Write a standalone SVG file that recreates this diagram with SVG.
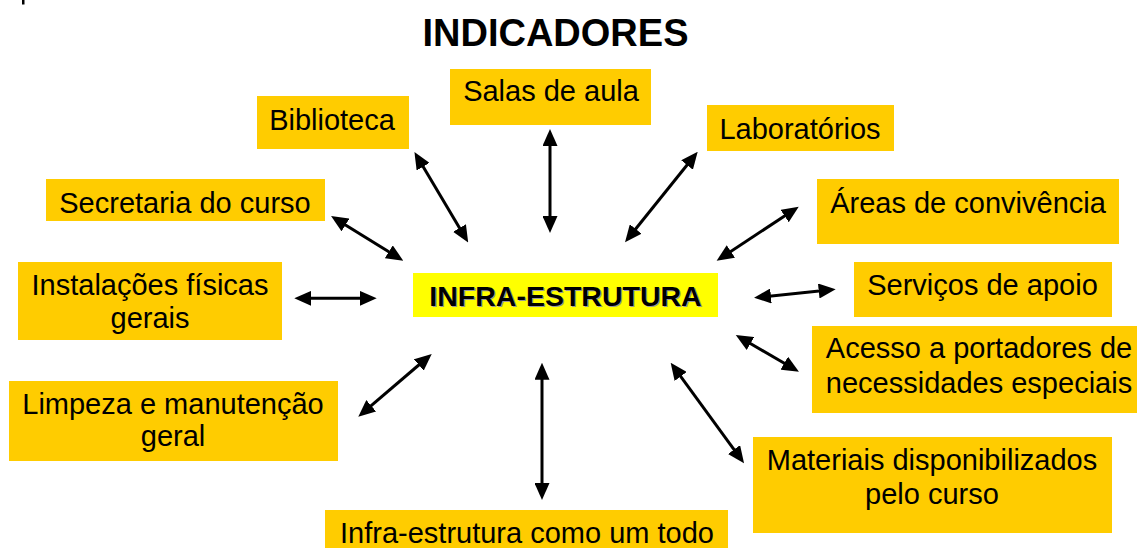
<svg xmlns="http://www.w3.org/2000/svg" width="1137" height="548" viewBox="0 0 1137 548">
<style>
.box{fill:#FFCC00}
.t{font-family:"Liberation Sans",Arial,sans-serif;font-size:29px;fill:#000;text-anchor:middle}
.b{font-family:"Liberation Sans",Arial,sans-serif;font-weight:bold;text-anchor:middle}
.c{stroke:#000;stroke-width:3;fill:none;marker-start:url(#ah);marker-end:url(#ah)}
</style>
<defs>
<marker id="ah" markerUnits="userSpaceOnUse" markerWidth="17" markerHeight="15" refX="10" refY="7.5" orient="auto-start-reverse" viewBox="0 0 17 15">
<path d="M0,0 L17,7.5 L0,15 z" fill="#000"/>
</marker>
</defs>
<rect width="1137" height="548" fill="#fff"/>
<rect x="22" y="0" width="2.5" height="4.5" fill="#000"/>
<text class="b" x="555.5" y="46" font-size="38">INDICADORES</text>

<g id="salas"><rect class="box" x="450" y="69" width="201" height="56"/><text class="t" x="551" y="101">Salas de aula</text></g>
<g id="biblioteca"><rect class="box" x="257" y="96" width="152" height="53"/><text class="t" x="332" y="130">Biblioteca</text></g>
<g id="laboratorios"><rect class="box" x="707" y="105" width="187" height="46"/><text class="t" x="800" y="139">Laboratórios</text></g>
<g id="areas"><rect class="box" x="817" y="179" width="302" height="65"/><text class="t" x="968" y="213">Áreas de convivência</text></g>
<g id="secretaria"><rect class="box" x="46" y="179" width="279" height="42"/><text class="t" x="185" y="213">Secretaria do curso</text></g>
<g id="instalacoes"><rect class="box" x="18" y="262" width="264" height="78"/><text class="t" x="150" y="295">Instalações físicas</text><text class="t" x="150" y="328">gerais</text></g>
<g id="limpeza"><rect class="box" x="9" y="381" width="329" height="80"/><text class="t" x="173" y="414">Limpeza e manutenção</text><text class="t" x="173" y="446">geral</text></g>
<g id="servicos"><rect class="box" x="854" y="262" width="258" height="55"/><text class="t" x="982.5" y="295">Serviços de apoio</text></g>
<g id="acesso"><rect class="box" x="812" y="326" width="325" height="87"/><text class="t" x="979" y="358">Acesso a portadores de</text><text class="t" x="979" y="393">necessidades especiais</text></g>
<g id="materiais"><rect class="box" x="753" y="437" width="359" height="96"/><text class="t" x="932" y="470">Materiais disponibilizados</text><text class="t" x="932" y="504">pelo curso</text></g>
<g id="todo"><rect class="box" x="325" y="510" width="403" height="38"/><text class="t" x="527" y="543">Infra-estrutura como um todo</text></g>
<g id="infra"><rect x="413" y="273" width="305" height="44" fill="#FFFF00"/><text class="b" x="566.6" y="307.1" font-size="28.5" fill="#9a9a9a">INFRA-ESTRUTURA</text><text class="b" x="565.5" y="306" font-size="28.5" fill="#000">INFRA-ESTRUTURA</text></g>

<g id="connectors">
<line class="c" x1="550" y1="136" x2="550" y2="226"/>
<line class="c" x1="418" y1="158.1" x2="464.6" y2="236.6"/>
<line class="c" x1="693.3" y1="157.2" x2="629.4" y2="236.8"/>
<line class="c" x1="792.9" y1="210.5" x2="722.5" y2="256.9"/>
<line class="c" x1="337" y1="219.7" x2="397.3" y2="257"/>
<line class="c" x1="301.3" y1="298.3" x2="369.7" y2="298.3"/>
<line class="c" x1="426.4" y1="358.5" x2="363.6" y2="412.2"/>
<line class="c" x1="542" y1="369.7" x2="542" y2="493"/>
<line class="c" x1="674.8" y1="368.4" x2="739.9" y2="457.6"/>
<line class="c" x1="741.8" y1="338.5" x2="792.9" y2="368.2"/>
<line class="c" x1="761" y1="297" x2="828.7" y2="290"/>
</g>
</svg>
